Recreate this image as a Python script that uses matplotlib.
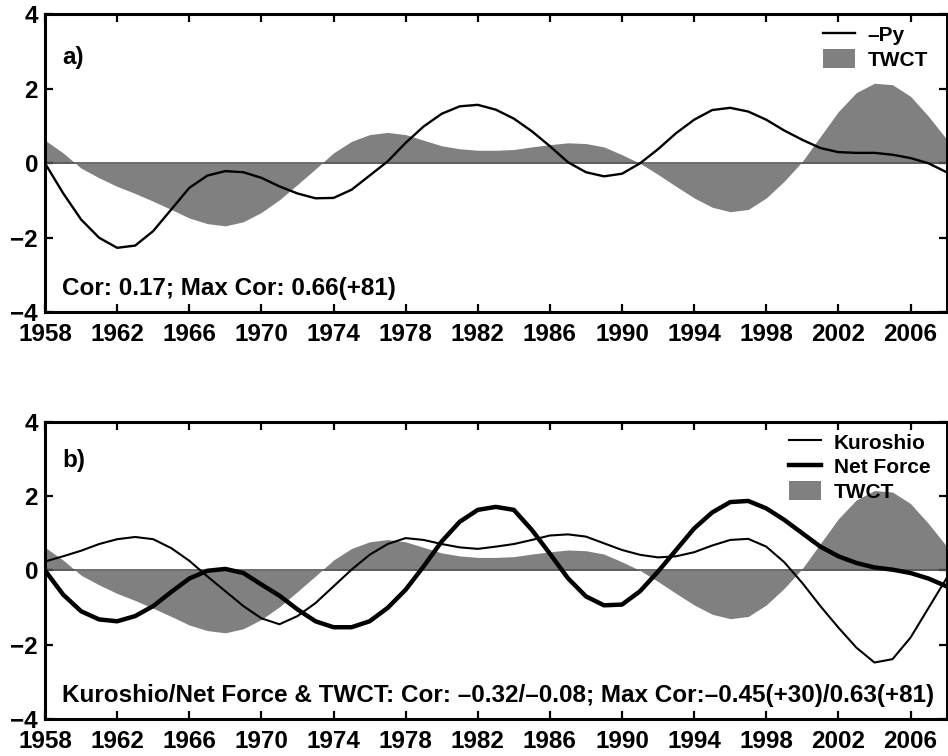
import numpy as np
import matplotlib
matplotlib.use("Agg")
from matplotlib import pyplot as plt

# ---------------------------------------------------------------------------
# Data (one value per year)
# ---------------------------------------------------------------------------
years = np.arange(1958, 2009)

twct = [0.62, 0.28, -0.13, -0.39, -0.62, -0.81, -1.02, -1.24, -1.47, -1.62,
        -1.68, -1.57, -1.32, -0.98, -0.57, -0.15, 0.28, 0.59, 0.77, 0.83,
        0.77, 0.62, 0.47, 0.39, 0.35, 0.35, 0.37, 0.44, 0.50, 0.55,
        0.53, 0.44, 0.23, 0.00, -0.30, -0.62, -0.93, -1.18, -1.30, -1.24,
        -0.93, -0.48, 0.05, 0.72, 1.39, 1.90, 2.15, 2.11, 1.80, 1.26,
        0.65]

neg_py = [0.00, -0.80, -1.51, -2.00, -2.27, -2.21, -1.82, -1.24, -0.66, -0.33,
          -0.21, -0.24, -0.39, -0.62, -0.81, -0.94, -0.93, -0.71, -0.33, 0.05,
          0.55, 0.99, 1.33, 1.53, 1.57, 1.44, 1.20, 0.86, 0.46, 0.03,
          -0.24, -0.35, -0.28, 0.00, 0.38, 0.81, 1.17, 1.43, 1.49, 1.39,
          1.17, 0.88, 0.63, 0.41, 0.30, 0.28, 0.28, 0.23, 0.14, 0.00,
          -0.24]

kuroshio = [0.24, 0.38, 0.53, 0.71, 0.84, 0.90, 0.84, 0.60, 0.26, -0.16,
            -0.56, -0.96, -1.29, -1.45, -1.23, -0.88, -0.43, 0.02, 0.42, 0.71,
            0.87, 0.82, 0.71, 0.62, 0.58, 0.64, 0.71, 0.82, 0.94, 0.97,
            0.91, 0.73, 0.55, 0.42, 0.35, 0.38, 0.49, 0.67, 0.82, 0.85,
            0.64, 0.22, -0.34, -0.96, -1.54, -2.08, -2.48, -2.39, -1.81, -1.01,
            -0.21]

net_force = [0.00, -0.65, -1.10, -1.32, -1.37, -1.23, -0.96, -0.58, -0.22, -0.01,
             0.04, -0.07, -0.38, -0.68, -1.05, -1.37, -1.53, -1.53, -1.37, -1.01,
             -0.52, 0.11, 0.78, 1.31, 1.63, 1.71, 1.63, 1.09, 0.45, -0.21,
             -0.70, -0.94, -0.92, -0.56, -0.03, 0.55, 1.13, 1.56, 1.84, 1.87,
             1.67, 1.36, 1.00, 0.64, 0.38, 0.20, 0.08, 0.02, -0.07, -0.22,
             -0.43]

year_ticks = list(range(1958, 2007, 4))
value_ticks = [-4, -2, 0, 2, 4]

text_a = "Cor: 0.17; Max Cor: 0.66(+81)"
text_b = "Kuroshio/Net Force & TWCT: Cor: \u20130.32/\u20130.08; Max Cor:\u20130.45(+30)/0.63(+81)"

# ---------------------------------------------------------------------------
# Style
# ---------------------------------------------------------------------------
plt.rcParams['font.family'] = ['Liberation Sans', 'DejaVu Sans']
plt.rcParams['font.weight'] = 'bold'
plt.rcParams['font.size'] = 17.5

FILL_GREY = '#808080'
FS = 17.5      # tick labels / annotations
LEG_FS = 15    # legend entries


def style_axes(ax):
    ax.set_xlim(1958, 2008)
    ax.set_ylim(-4, 4)
    ax.set_xticks(year_ticks)
    ax.set_yticks(value_ticks)
    ax.tick_params(direction='in', top=True, right=True, length=6, width=1.6, labelsize=FS)
    ax.tick_params(axis='x', pad=8)
    ax.tick_params(axis='y', pad=5)
    for s in ax.spines.values():
        s.set_linewidth(2.2)


def add_legend(ax, handles, labels, x0):
    ax.legend(handles=handles, labels=labels, loc='upper left',
              bbox_to_anchor=(x0, 0.965), frameon=False, fontsize=LEG_FS,
              handlelength=1.55, handletextpad=0.6, labelspacing=0.2,
              borderpad=0, borderaxespad=0, handleheight=1.0)


fig = plt.figure(figsize=(9.48, 7.56), dpi=100)
ax_a = fig.add_axes([0.0475, 0.587, 0.951, 0.394])
ax_b = fig.add_axes([0.0475, 0.049, 0.951, 0.393])

# panel a
fill_a = ax_a.fill_between(years, 0, twct, color=FILL_GREY, lw=0)
ax_a.axhline(0, color='#555555', lw=1.2)
line_py, = ax_a.plot(years, neg_py, color='black', lw=1.7, solid_joinstyle='round')
style_axes(ax_a)
ax_a.text(0.019, 0.856, 'a)', transform=ax_a.transAxes, fontsize=FS, va='center')
ax_a.text(0.019, 0.057, text_a, transform=ax_a.transAxes, fontsize=FS, va='baseline')
add_legend(ax_a, [line_py, fill_a], ['\u2013Py', 'TWCT'], 0.863)

# panel b
fill_b = ax_b.fill_between(years, 0, twct, color=FILL_GREY, lw=0)
ax_b.axhline(0, color='#555555', lw=1.2)
line_k, = ax_b.plot(years, kuroshio, color='black', lw=1.5, solid_joinstyle='round')
line_n, = ax_b.plot(years, net_force, color='black', lw=3.2, solid_joinstyle='round')
style_axes(ax_b)
ax_b.text(0.019, 0.87, 'b)', transform=ax_b.transAxes, fontsize=FS, va='center')
ax_b.text(0.019, 0.058, text_b, transform=ax_b.transAxes, fontsize=FS, va='baseline')
add_legend(ax_b, [line_k, line_n, fill_b], ['Kuroshio', 'Net Force', 'TWCT'], 0.825)

fig.savefig('out.png', dpi=100)
